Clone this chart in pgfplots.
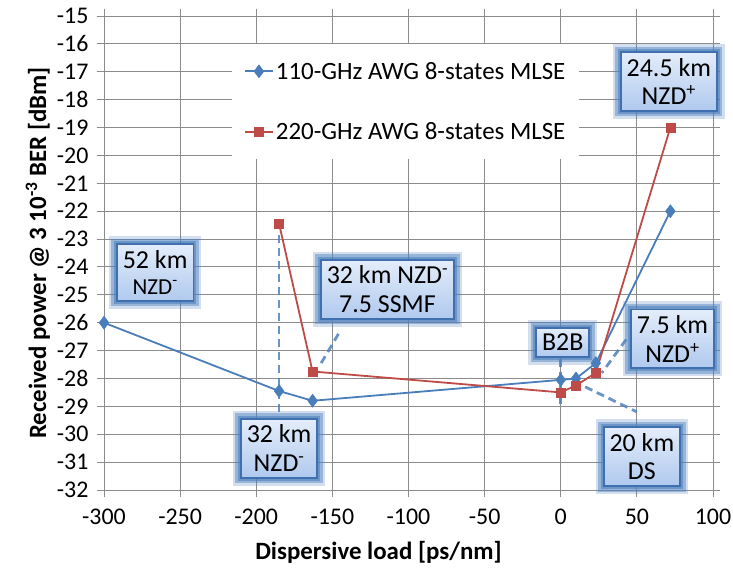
\documentclass[border=0pt]{standalone}
\usepackage{pgfplots}
\pgfplotsset{compat=1.18}
\usepackage{fontspec}
\setmainfont{Carlito}
\definecolor{sblue}{HTML}{4A7EBB}
\definecolor{sred}{HTML}{BE4B48}
\definecolor{cblue}{HTML}{4F81BD}
\definecolor{cborder}{HTML}{3F6FAE}
\definecolor{clight}{HTML}{E4EDFA}
\definecolor{cdark}{HTML}{AFC9EE}
\definecolor{gridgray}{HTML}{8C8C8C}
\tikzset{
  callout/.style={align=center, font=\fontsize{26}{29}\selectfont, inner sep=6bp,
    draw=cborder, line width=1.8bp, top color=clight, bottom color=cdark,
    preaction={draw=cblue, draw opacity=0.25, line width=16bp, fill=none},
    preaction={draw=cblue, draw opacity=0.45, line width=11bp, fill=none},
    preaction={draw=cblue, draw opacity=0.6, line width=6bp, fill=none}},
  leader/.style={draw=cblue, draw opacity=0.85, line width=2.8bp, dash pattern=on 8bp off 5bp}
}
\begin{document}
\begin{tikzpicture}
\begin{axis}[
  scale only axis,
  width=609bp, height=474bp,
  xmin=-300, xmax=100, ymin=-32, ymax=-15,
  xtick={-300,-250,...,100},
  ytick={-32,-31,...,-15},
  grid=major,
  major grid style={gridgray, line width=0.9bp},
  axis line style={gridgray, line width=0.9bp},
  tick style={gridgray, line width=0.9bp},
  tick align=outside, major tick length=7bp,
  /pgf/number format/assume math mode=true,
  ticklabel style={font=\fontsize{24}{26}\selectfont},
  xticklabel style={yshift=-8bp},
  yticklabel style={xshift=-5bp},
  xlabel={\textbf{Dispersive load [ps/nm]}},
  ylabel={\textbf{Received power @ 3 10\textsuperscript{-3} BER [dBm]}},
  label style={font=\fontsize{25}{28}\selectfont},
  xlabel style={yshift=-10bp, xshift=-30bp},
  ylabel style={yshift=0bp},
  clip=false,
  legend cell align=left,
  legend style={at={(axis cs:-216,-16.0)}, anchor=north west, draw=none, fill=white,
    font=\fontsize{25}{28}\selectfont, row sep=38bp, inner xsep=12bp, inner ysep=16bp},
  legend image code/.code={
    \draw[#1, mark repeat=2, mark phase=2] plot coordinates {(0bp,0bp) (14bp,0bp) (28bp,0bp)};
  },
]
\addplot[sblue, line width=1.8bp, mark=diamond*, mark size=6.5bp, mark options={fill=sblue, draw=sblue, line width=0.5bp}]
  coordinates {(-300,-26) (-185,-28.45) (-163,-28.8) (0,-28.05) (10,-28.0) (23,-27.45) (72,-22)};
\addlegendentry{110-GHz AWG 8-states MLSE}
\addplot[sred, line width=1.8bp, mark=square*, mark size=4.5bp, mark options={fill=sred, draw=sred, line width=0.5bp}]
  coordinates {(-185,-22.45) (-163,-27.75) (0,-28.5) (10,-28.25) (23,-27.8) (72,-19)};
\addlegendentry{220-GHz AWG 8-states MLSE}

\draw[leader] (axis cs:-185,-22.85) -- (axis cs:-185,-29.2);
\draw[leader] (axis cs:-146,-26.4) -- (axis cs:-159,-27.6);
\draw[leader] (axis cs:0,-27.3) -- (axis cs:0,-28.9);
\draw[leader] (axis cs:43,-26.6) -- (axis cs:27,-27.8);
\draw[leader] (axis cs:16,-28.3) -- (axis cs:50,-29.2);

\node[callout] at (axis cs:-266.4,-24.2) {52 km\\[-2bp]{\fontsize{23}{26}\selectfont NZD\textsuperscript{-}}};
\node[callout] at (axis cs:-113.8,-24.8) {32 km NZD\textsuperscript{-}\\7.5 SSMF};
\node[callout] at (axis cs:-185,-30.5) {32 km\\NZD\textsuperscript{-}};
\node[callout] at (axis cs:1.3,-26.7) {B2B};
\node[callout] at (axis cs:73.4,-26.58) {7.5 km\\NZD\textsuperscript{+}};
\node[callout] at (axis cs:53.3,-30.8) {20 km\\DS};
\node[callout] at (axis cs:71,-17.35) {24.5 km\\NZD\textsuperscript{+}};
\end{axis}
\pgfresetboundingbox
\path[use as bounding box] (-104bp,-85bp) rectangle (629bp,490bp);
\end{tikzpicture}
\end{document}
